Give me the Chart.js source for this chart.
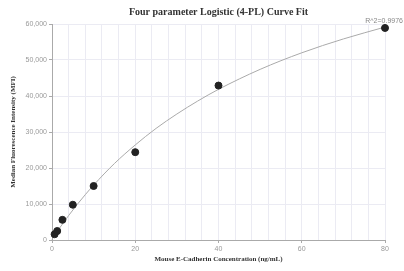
<!DOCTYPE html>
<html><head><meta charset="utf-8">
<script src="https://cdn.jsdelivr.net/npm/chart.js@4.4.1/dist/chart.umd.min.js"></script>
<style>html,body{margin:0;padding:0;background:#fff}#wrap{width:404px;height:271px}</style>
</head><body><div id="wrap"><canvas id="c" width="404" height="271"></canvas></div>
<script>
const concentrations = [0.625, 1.25, 2.5, 5, 10, 20, 40, 80];
const mfiValues = [1600, 2500, 5600, 9800, 15000, 24400, 42900, 58900];
const curveX = [0, 1, 2, 4, 6, 8, 10, 15, 20, 25, 30, 35, 40, 50, 60, 70, 80];
const curveY = [150, 1900, 3600, 6800, 9800, 12600, 15250, 21250, 26400, 31000, 35000, 38600, 41850, 47400, 52000, 55850, 59150];
const yTicks = [0, 10000, 20000, 30000, 40000, 50000, 60000];
const xLabelTicks = [0, 20, 40, 60, 80];
const rSquaredLabel = 'R^2=0.9976';

const gridCol = '#ebebf3';
const r2Plugin = {
  id: 'r2',
  afterDatasetsDraw(chart) {
    const ctx = chart.ctx, xs = chart.scales.x, ys = chart.scales.y;
    const lx = xs.getPixelForValue(concentrations[concentrations.length - 1]);
    const ly = ys.getPixelForValue(mfiValues[mfiValues.length - 1]);
    ctx.save();
    ctx.font = '7px "Liberation Sans", Arial, sans-serif';
    ctx.fillStyle = '#888';
    ctx.textAlign = 'right';
    ctx.textBaseline = 'bottom';
    ctx.fillText(rSquaredLabel, lx + 18, ly - 3);
    ctx.restore();
  }
};

new Chart(document.getElementById('c'), {
  type: 'scatter',
  data: {
    datasets: [
      {
        data: curveX.map((x, i) => ({x, y: curveY[i]})),
        showLine: true, borderColor: '#aaaaaa', borderWidth: 1,
        pointRadius: 0, cubicInterpolationMode: 'monotone', order: 2
      },
      {
        data: concentrations.map((x, i) => ({x, y: mfiValues[i]})),
        backgroundColor: '#222', borderColor: '#222', pointRadius: 3.5, order: 1
      }
    ]
  },
  options: {
    responsive: false, animation: false, devicePixelRatio: 1,
    clip: false,
    layout: {padding: {left: 9, right: 19, top: 0, bottom: 8}},
    plugins: {
      legend: {display: false}, tooltip: {enabled: false},
      title: {
        display: true, text: 'Four parameter Logistic (4-PL) Curve Fit',
        fullSize: false, color: '#333',
        font: {family: '"Liberation Serif", "Times New Roman", serif', size: 10, weight: 'bold'},
        padding: {top: 6, bottom: 6}
      }
    },
    scales: {
      x: {
        type: 'linear', min: 0, max: 80,
        afterFit(s) { s.height = 23; },
        ticks: {
          stepSize: 4, autoSkip: false, maxRotation: 0, padding: 2,
          color: '#999', font: {family: '"Liberation Sans", Arial, sans-serif', size: 7},
          callback: v => xLabelTicks.includes(v) ? String(v) : ''
        },
        grid: {
          color: gridCol, tickLength: 3,
          tickColor: c => (c.tick && xLabelTicks.includes(c.tick.value)) ? '#aaa' : 'rgba(0,0,0,0)'
        },
        border: {color: '#aaa'},
        title: {
          display: true, text: 'Mouse E-Cadherin Concentration (ng/mL)', color: '#333',
          font: {family: '"Liberation Serif", "Times New Roman", serif', size: 7, weight: 'bold'},
          padding: {top: 3, bottom: 0}
        }
      },
      y: {
        min: 0, max: 60000,
        afterFit(s) { s.width = 43; },
        afterBuildTicks(s) { s.ticks = yTicks.map(v => ({value: v})); },
        ticks: {
          padding: 2, color: '#999',
          font: {family: '"Liberation Sans", Arial, sans-serif', size: 7},
          callback: v => v.toLocaleString('en-US')
        },
        grid: {color: gridCol, tickLength: 3, tickColor: '#aaa'},
        border: {color: '#aaa'},
        title: {
          display: true, text: 'Median Fluorescence Intensity (MFI)', color: '#333',
          font: {family: '"Liberation Serif", "Times New Roman", serif', size: 7, weight: 'bold'},
          padding: {top: 0, bottom: 4}
        }
      }
    }
  },
  plugins: [r2Plugin]
});
</script></body></html>
